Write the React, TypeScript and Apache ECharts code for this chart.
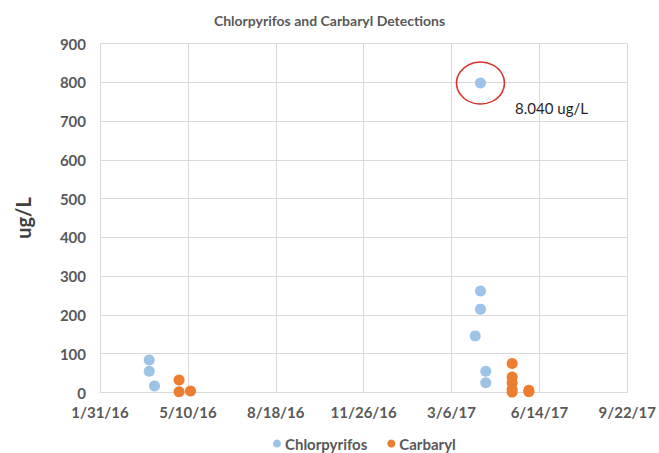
import React, { useEffect, useRef } from "react";
import * as echarts from "echarts";

const TITLE = "Chlorpyrifos and Carbaryl Detections";
const Y_NAME = "ug/L";
const SERIES_NAMES = ["Chlorpyrifos", "Carbaryl"];

const chlorDates = ["2016-03-27", "2016-03-27", "2016-04-02", "2017-04-08", "2017-04-08", "2017-04-08", "2017-04-02", "2017-04-14", "2017-04-14"];
const chlorValues = [84, 55, 17, 798, 262, 215, 146, 55, 25];

const carbDates = ["2016-04-30", "2016-04-30", "2016-05-13", "2017-05-14", "2017-05-14", "2017-05-14", "2017-05-14", "2017-05-14", "2017-06-02", "2017-06-02"];
const carbValues = [32, 2, 4, 75, 40, 25, 8, 1, 6, 2];

const X_MIN = 42400; // Excel serial of 1/31/16
const X_MAX = 43000; // 9/22/17
const X_STEP = 100;
const Y_MIN = 0;
const Y_MAX = 900;
const Y_STEP = 100;

const ANNOT_TEXT = "8.040 ug/L";
const ANNOT_INDEX = 3;

const EXCEL_EPOCH = Date.UTC(1899, 11, 30);
function toSerial(s: string): number {
  const [y, m, d] = s.split("-").map(Number);
  return Math.round((Date.UTC(y, m - 1, d) - EXCEL_EPOCH) / 86400000);
}
function serialLabel(v: number): string {
  const dt = new Date(EXCEL_EPOCH + v * 86400000);
  return `${dt.getUTCMonth() + 1}/${dt.getUTCDate()}/${String(dt.getUTCFullYear()).slice(2)}`;
}

const FONT = "Lato, 'Open Sans', sans-serif";

export default function App() {
  const ref = useRef<HTMLDivElement>(null);
  useEffect(() => {
    if (!ref.current) return;
    const chart = echarts.init(ref.current, undefined, { renderer: "svg" });
    const chlorData = chlorDates.map((d, i) => [toSerial(d), chlorValues[i]]);
    const carbData = carbDates.map((d, i) => [toSerial(d), carbValues[i]]);
    const outlier = chlorData[ANNOT_INDEX];
    chart.setOption({
      animation: false,
      backgroundColor: "#ffffff",
      textStyle: { fontFamily: FONT },
      title: {
        text: TITLE,
        left: "center",
        top: 8,
        textStyle: { fontFamily: FONT, fontSize: 14, fontWeight: "bold", color: "#595959" },
      },
      grid: { left: 100, right: 28, top: 43.5, bottom: 60.5, containLabel: false },
      xAxis: {
        type: "value",
        min: X_MIN,
        max: X_MAX,
        interval: X_STEP,
        axisLine: { show: true, lineStyle: { color: "#d9d9d9", width: 1 } },
        axisTick: { show: false },
        splitLine: { show: true, lineStyle: { color: "#d9d9d9", width: 1 } },
        axisLabel: {
          formatter: (v: number) => serialLabel(v),
          color: "#595959",
          fontSize: 15,
          fontWeight: "bold",
          fontFamily: FONT,
          margin: 12,
        },
      },
      yAxis: {
        type: "value",
        min: Y_MIN,
        max: Y_MAX,
        interval: Y_STEP,
        name: Y_NAME,
        nameLocation: "middle",
        nameGap: 67,
        nameRotate: 90,
        nameTextStyle: { fontFamily: FONT, fontSize: 20, fontWeight: "bold", color: "#404040" },
        axisLine: { show: false },
        axisTick: { show: false },
        splitLine: { show: true, lineStyle: { color: "#d9d9d9", width: 1 } },
        axisLabel: { color: "#595959", fontSize: 15, fontWeight: "bold", fontFamily: FONT, margin: 14 },
      },
      legend: {
        top: 431,
        left: 268,
        itemWidth: 8,
        itemHeight: 8,
        itemGap: 20,
        icon: "circle",
        textStyle: { fontFamily: FONT, fontSize: 15, fontWeight: "bold", color: "#595959", padding: [0, 0, 0, -1] },
        data: SERIES_NAMES,
      },
      series: [
        {
          name: SERIES_NAMES[0],
          type: "scatter",
          symbol: "circle",
          symbolSize: 11,
          itemStyle: { color: "#9dc3e6", opacity: 1 },
          data: chlorData,
          z: 3,
          markPoint: {
            silent: true,
            data: [
              {
                coord: outlier,
                symbol: "circle",
                symbolSize: [48, 42],
                itemStyle: { color: "rgba(0,0,0,0)", borderColor: "#d9312c", borderWidth: 1.5 },
                label: { show: false },
              },
              {
                coord: outlier,
                symbol: "circle",
                symbolSize: 1,
                itemStyle: { color: "rgba(0,0,0,0)" },
                label: {
                  show: true,
                  formatter: ANNOT_TEXT,
                  position: "inside",
                  offset: [71, 25],
                  color: "#262626",
                  fontSize: 15,
                  fontFamily: FONT,
                },
              },
            ],
          },
        },
        {
          name: SERIES_NAMES[1],
          type: "scatter",
          symbol: "circle",
          symbolSize: 11,
          itemStyle: { color: "#ed7d31", opacity: 1 },
          data: carbData,
          z: 3,
        },
      ],
    });
    return () => chart.dispose();
  }, []);
  return <div ref={ref} style={{ width: 659, height: 453, position: "absolute", left: 0, top: 0 }} />;
}
